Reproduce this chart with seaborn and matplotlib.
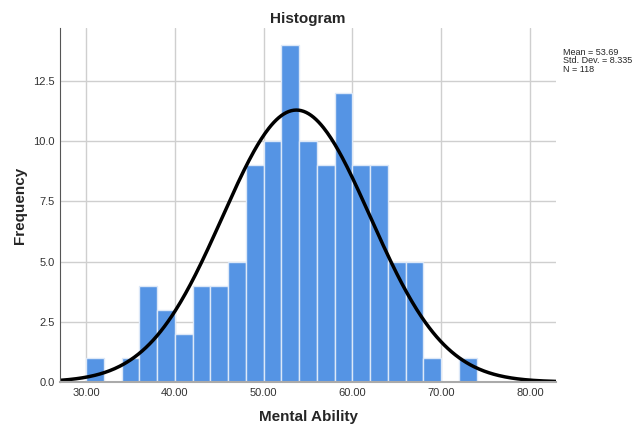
import numpy as np
import pandas as pd
import matplotlib.pyplot as plt
import seaborn as sns

sns.set_style("white")
plt.rcParams['font.family'] = ['Liberation Sans', 'DejaVu Sans']

# bin left edges and counts
bin_left = [30, 32, 34, 36, 38, 40, 42, 44, 46, 48, 50, 52, 54, 56, 58, 60, 62, 64, 66, 68, 70, 72]
counts = [1, 0, 1, 4, 3, 2, 4, 4, 5, 9, 10, 14, 10, 9, 12, 9, 9, 5, 5, 1, 0, 1]
mean, sd, n = 53.69, 8.335, 118
bin_w = 2

df = pd.DataFrame({"mid": np.array(bin_left) + bin_w / 2, "count": counts})

fig = plt.figure(figsize=(6.36, 4.26), dpi=100)
ax = fig.add_axes([0.0943, 0.1033, 0.78, 0.8307])

ax.set_axisbelow(True)
ax.grid(True, color="#cfcfcf", linewidth=1)
sns.histplot(data=df, x="mid", weights="count", binwidth=bin_w, binrange=(30, 74),
             color="#5594e4", edgecolor="#dce8f8", linewidth=1, alpha=1, ax=ax)

# normal curve
xs = np.linspace(27.07, 82.93, 400)
ys = n * bin_w * np.exp(-0.5 * ((xs - mean) / sd) ** 2) / (sd * np.sqrt(2 * np.pi))
sns.lineplot(x=xs, y=ys, color="black", linewidth=2.5, ax=ax)

ax.set_xlim(27.07, 82.93)
ax.set_ylim(0, 14.7)
ax.set_xticks([30, 40, 50, 60, 70, 80])
ax.set_xticklabels([f"{v:.2f}" for v in [30, 40, 50, 60, 70, 80]])
ax.set_yticks([0, 2.5, 5, 7.5, 10, 12.5])
ax.set_yticklabels(["0.0", "2.5", "5.0", "7.5", "10.0", "12.5"])
ax.tick_params(labelsize=8, length=0, pad=4, colors="#333333")

for s in ["top", "right"]:
    ax.spines[s].set_visible(False)
ax.spines["left"].set_color("#555555")
ax.spines["bottom"].set_color("#aaaaaa")
ax.spines["bottom"].set_linewidth(1.5)

ax.set_xlabel("Mental Ability", fontsize=11, fontweight="bold", labelpad=9)
ax.set_ylabel("Frequency", fontsize=11, fontweight="bold", labelpad=4)
ax.set_title("Histogram", fontsize=11, fontweight="bold", pad=4)

fig.text(0.886, 0.888, f"Mean = {mean}\nStd. Dev. = {sd}\nN = {n}",
         fontsize=6.5, va="top", ha="left", linespacing=0.95)

fig.savefig("out.png", dpi=100)
